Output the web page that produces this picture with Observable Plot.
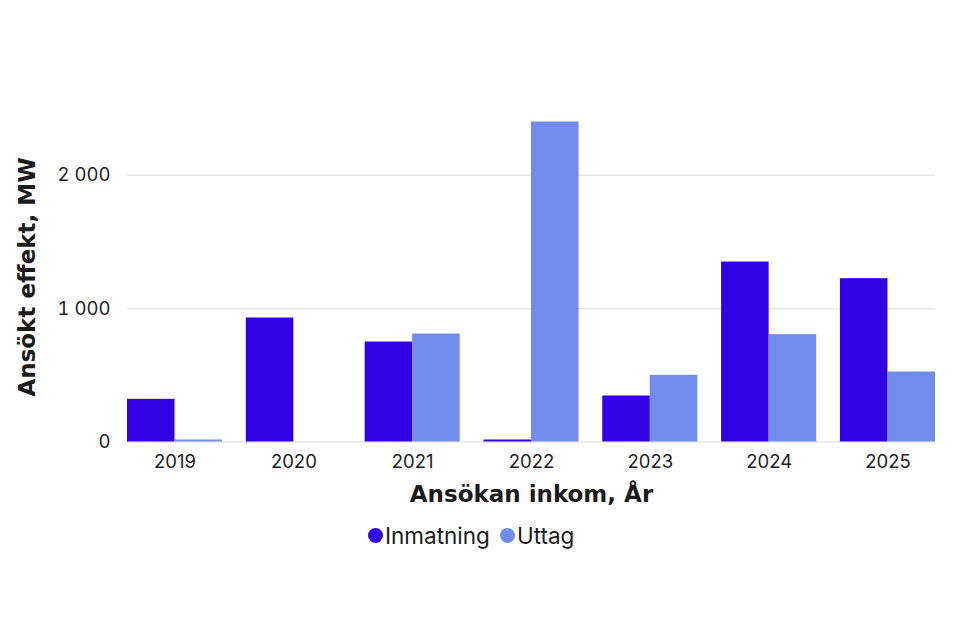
<!DOCTYPE html>
<html>
<head>
<meta charset="utf-8">
<script src="https://cdn.jsdelivr.net/npm/d3@7"></script>
<script src="https://cdn.jsdelivr.net/npm/@observablehq/plot@0.6"></script>
<style>
  html, body { margin: 0; padding: 0; background: #fff; }
  #wrap { position: relative; width: 960px; height: 640px; overflow: hidden; }
  #legend { position: absolute; left: 368px; top: 522px; display: flex; align-items: center;
            font-family: Inter, "Noto Sans", sans-serif; font-size: 22.5px; color: #1a1a1a; }
  #legend .item { display: flex; align-items: center; margin-right: 10px; }
  #legend .dot { width: 15px; height: 15px; border-radius: 50%; margin-right: 2px; }
</style>
</head>
<body>
<div id="wrap"><div id="chart"></div><div id="legend"></div></div>
<script>
const years = ["2019", "2020", "2021", "2022", "2023", "2024", "2025"];
const seriesNames = ["Inmatning", "Uttag"];
const inmatning = [320, 930, 750, 15, 345, 1350, 1225];
const uttag = [15, 0, 810, 2400, 500, 805, 525];
const yTicks = [0, 1000, 2000];
const colors = ["#3300e6", "#728ceb"];
const xTitle = "Ansökan inkom, År";
const yTitle = "Ansökt effekt, MW";

const W = 960, H = 510, mL = 127, mR = 25, mT = 121.5, mB = 68.5;
const padInner = 0.2;
const step = (W - mL - mR) / (years.length - padInner);
const half = step * (1 - padInner) / 2;

const rowsA = years.map((y, i) => ({year: y, value: inmatning[i]}));
const rowsB = years.map((y, i) => ({year: y, value: uttag[i]}));
const fmt = d => d3.format(",")(d).replace(/,/g, "\u00a0");

const chart = Plot.plot({
  width: W, height: H,
  marginLeft: mL, marginRight: mR, marginTop: mT, marginBottom: mB,
  style: {fontFamily: "Inter, 'Noto Sans', sans-serif", fontSize: "18.5px", color: "#222", background: "#fff"},
  x: {domain: years, paddingInner: padInner, paddingOuter: 0, round: false, label: null, tickSize: 0, tickPadding: 13},
  y: {domain: [0, 2400], ticks: yTicks, tickFormat: fmt, label: null, tickSize: 0, tickPadding: 17},
  marks: [
    Plot.ruleY(yTicks, {stroke: "#e8e8e8", strokeWidth: 1.5}),
    Plot.barY(rowsA, {x: "year", y: "value", fill: colors[0], insetRight: half, insetLeft: 0}),
    Plot.barY(rowsB, {x: "year", y: "value", fill: colors[1], insetLeft: half, insetRight: 0}),
    Plot.text([xTitle], {text: d => d, frameAnchor: "bottom", dy: 52.5, lineAnchor: "middle",
      fontFamily: "'DejaVu Sans', sans-serif", fontSize: 23, fontWeight: "bold", fill: "#1a1a1a"}),
    Plot.text([yTitle], {text: d => d, frameAnchor: "left", rotate: -90, dx: -100, dy: -5,
      lineAnchor: "middle", textAnchor: "middle",
      fontFamily: "'DejaVu Sans', sans-serif", fontSize: 23, fontWeight: "bold", fill: "#1a1a1a"})
  ]
});
document.getElementById("chart").appendChild(chart);

const legend = document.getElementById("legend");
seriesNames.forEach((name, i) => {
  const item = document.createElement("div");
  item.className = "item";
  const dot = document.createElement("span");
  dot.className = "dot";
  dot.style.background = colors[i];
  const label = document.createElement("span");
  label.textContent = name;
  item.appendChild(dot);
  item.appendChild(label);
  legend.appendChild(item);
});
</script>
</body>
</html>
